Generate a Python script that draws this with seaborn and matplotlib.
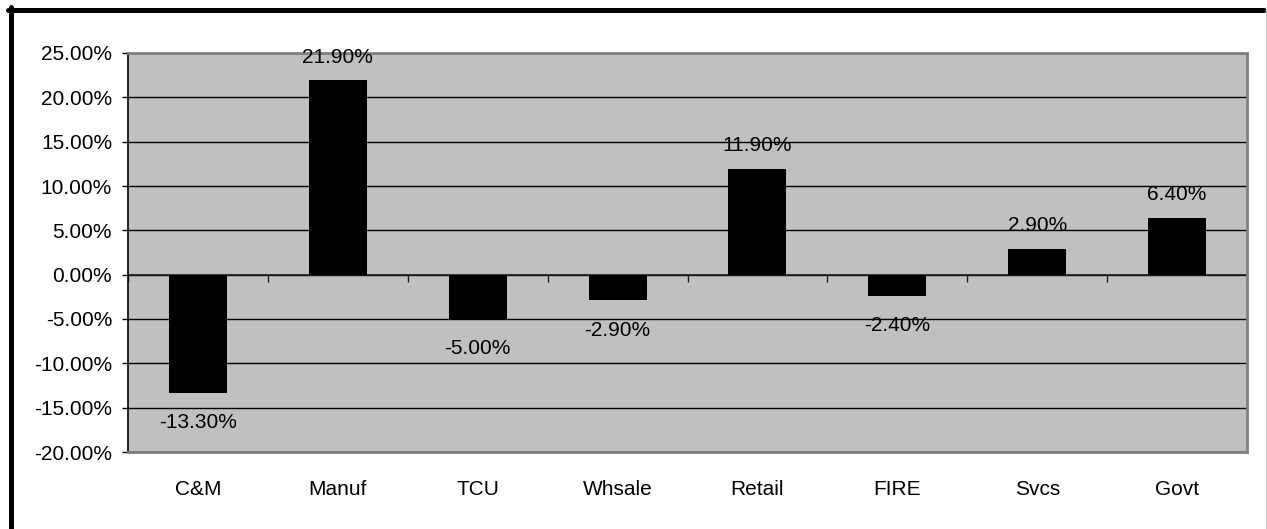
import numpy as np
import matplotlib
matplotlib.use("Agg")
import matplotlib.pyplot as plt
import seaborn as sns
from matplotlib.lines import Line2D

# === Données ===
sectors = ["C&M", "Manuf", "TCU", "Whsale", "Retail", "FIRE", "Svcs", "Govt"]
change_pct = [-13.3, 21.9, -5.0, -2.9, 11.9, -2.4, 2.9, 6.4]
y_ticks = [-20, -15, -10, -5, 0, 5, 10, 15, 20, 25]

sns.set_theme(style="white")
plt.rcParams["font.family"] = ["Liberation Sans", "DejaVu Sans"]
plt.rcParams["font.size"] = 15
plt.rcParams["text.color"] = "black"

fig = plt.figure(figsize=(12.67, 5.29), dpi=100)
ax = fig.add_axes([128 / 1267, 1 - 452 / 529, 1119 / 1267, 399 / 529])
ax.set_facecolor("#C0C0C0")

sns.barplot(x=sectors, y=change_pct, color="black", saturation=1,
            width=0.415, linewidth=0, ax=ax, zorder=3)

ax.set_ylim(-20, 25)
ax.set_xlim(-0.5, len(sectors) - 0.5)
ax.set_yticks(y_ticks)
ax.set_yticklabels([f"{t:.2f}%" for t in y_ticks], fontsize=15, color="black")
ax.grid(axis="y", color="black", linewidth=1, zorder=1)
ax.set_axisbelow(True)

# axe des x à zéro avec petits traits entre catégories
bounds = np.arange(len(sectors) + 1) - 0.5
ax.axhline(0, color="#202020", linewidth=1.2, zorder=2)
ax.plot(bounds, np.zeros(len(bounds)), linestyle="none", marker=3,
        markersize=5, color="#202020", zorder=2)

ax.tick_params(axis="y", length=4.5, width=1, direction="out", pad=7, left=True,
               colors="black")
ax.tick_params(axis="x", length=0, pad=20, labelsize=15, colors="black")
ax.set_xlabel("")
ax.set_ylabel("")

for side in ["top", "right", "bottom"]:
    ax.spines[side].set_color("#808080")
    ax.spines[side].set_linewidth(2)
ax.spines["left"].set_color("black")
ax.spines["left"].set_linewidth(1.2)

# Étiquettes des barres
for i, v in enumerate(change_pct):
    if v >= 0:
        ax.annotate(f"{v:.2f}%", (i, v), xytext=(0, 10), textcoords="offset points",
                    ha="center", va="bottom", fontsize=15, color="black", zorder=5,
                    annotation_clip=False)
    else:
        ax.annotate(f"{v:.2f}%", (i, v), xytext=(0, -14.5), textcoords="offset points",
                    ha="center", va="top", fontsize=15, color="black", zorder=5,
                    annotation_clip=False)

# Cadre du graphique
W, H = 1267, 529
fig.add_artist(Line2D([10.5 / W, 10.5 / W], [0, 1 - 7 / H], color="black",
                      linewidth=3.6, transform=fig.transFigure))
fig.add_artist(Line2D([8 / W, 1264 / W], [1 - 9.5 / H, 1 - 9.5 / H], color="black",
                      linewidth=3.6, transform=fig.transFigure))
fig.add_artist(Line2D([1265.5 / W, 1265.5 / W], [0, 1 - 7 / H], color="#C8C8C8",
                      linewidth=1, transform=fig.transFigure))

fig.savefig("out.png", dpi=100)
